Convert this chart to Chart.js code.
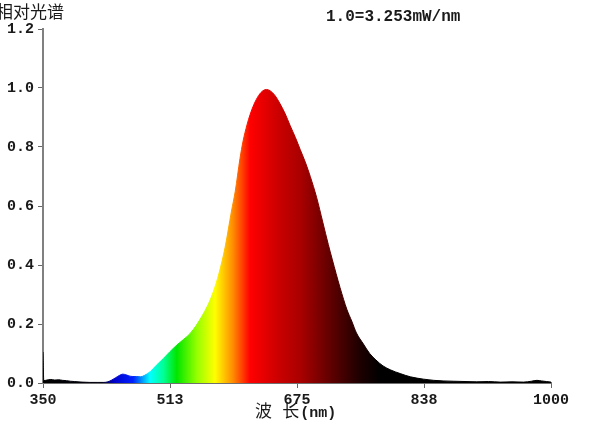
<!DOCTYPE html>
<html>
<head>
<meta charset="utf-8">
<script src="https://cdn.jsdelivr.net/npm/chart.js@4"></script>
<style>
  html, body { margin: 0; padding: 0; background: #fff; }
  #wrap { width: 600px; height: 434px; position: relative; }
</style>
</head>
<body>
<div id="wrap"><canvas id="myChart" width="600" height="434"></canvas></div>
<script>
'use strict';

// wavelength (nm) and relative intensity
const wavelengths = [
  350, 351, 355, 360, 365, 370, 375, 380, 385, 390, 395, 400, 410, 420,
  428, 433, 438, 443, 448, 452, 456, 460, 465, 470, 475, 480, 487, 495,
  504, 512, 521, 530, 538, 546, 555, 562, 568, 575, 583, 591, 596, 602,
  606, 611, 615, 620, 626, 631, 636, 641, 647, 653, 660, 666, 673, 679,
  686, 692, 700, 708, 715, 720, 730, 739, 745, 751, 760, 768, 776, 785,
  795, 807, 820, 837, 850, 862, 875, 890, 905, 920, 935, 950, 965, 975,
  982, 988, 994, 1000
];
const intensity = [
  0.105, 0.008, 0.010, 0.012, 0.010, 0.011, 0.009, 0.008, 0.006, 0.005, 0.004, 0.003, 0.002, 0.002,
  0.002, 0.004, 0.010, 0.018, 0.026, 0.030, 0.028, 0.024, 0.022, 0.022, 0.021, 0.026, 0.038, 0.060,
  0.083, 0.105, 0.128, 0.148, 0.167, 0.195, 0.234, 0.270, 0.310, 0.370, 0.460, 0.580, 0.650, 0.760,
  0.820, 0.875, 0.910, 0.945, 0.975, 0.990, 0.995, 0.990, 0.974, 0.948, 0.912, 0.874, 0.832, 0.792,
  0.746, 0.700, 0.630, 0.545, 0.470, 0.420, 0.324, 0.248, 0.210, 0.170, 0.132, 0.100, 0.078, 0.058,
  0.044, 0.032, 0.021, 0.013, 0.009, 0.007, 0.006, 0.005, 0.004, 0.005, 0.003, 0.004, 0.003, 0.006,
  0.009, 0.007, 0.005, 0.003
];
const xTickLabels = ['350', '513', '675', '838', '1000'];
const yTickLabels = ['0.0', '0.2', '0.4', '0.6', '0.8', '1.0', '1.2'];
const yAxisTitle = '相对光谱';
const xAxisTitle = '波 长';
const xAxisUnit = '(nm)';
const scaleNote = '1.0=3.253mW/nm';

// colour of the fill at each wavelength
const stopNm = [350, 425, 440, 465, 487, 504, 521, 547, 570, 593, 615, 653, 679, 721, 755, 782, 1000];
const stopColor = [
  '#000000', '#000010', '#0000c8', '#0020ff', '#00ffff', '#00ff96', '#00e600', '#96ff00',
  '#ffff00', '#ff8c00', '#ff0000', '#c80000', '#aa0000', '#5a0000', '#1e0000', '#000000', '#000000'
];

const monoFont = '"Liberation Mono", "Courier New", monospace';
const cjkFont = '"Noto Sans CJK SC", sans-serif';

const points = [];
for (let i = 0; i < wavelengths.length; i++) {
  points.push({ x: wavelengths[i], y: intensity[i] });
}

function spectrumFill(context) {
  const chart = context.chart;
  if (!chart.chartArea) {
    return '#ff0000';
  }
  const xScale = chart.scales.x;
  const x0 = xScale.getPixelForValue(350);
  const x1 = xScale.getPixelForValue(1000);
  const grad = chart.ctx.createLinearGradient(x0, 0, x1, 0);
  for (let i = 0; i < stopNm.length; i++) {
    grad.addColorStop((stopNm[i] - 350) / 650, stopColor[i]);
  }
  return grad;
}

const textPlugin = {
  id: 'cornerText',
  afterDraw(chart) {
    const ctx = chart.ctx;
    ctx.save();
    ctx.fillStyle = '#1a1a1a';
    ctx.textBaseline = 'middle';
    ctx.textAlign = 'left';
    ctx.font = '17px ' + cjkFont;
    ctx.fillText(yAxisTitle, -4, 12);
    ctx.font = 'bold 16px ' + monoFont;
    ctx.fillText(scaleNote, 326, 17);

    // x axis title: chinese part (mono space between) then the unit in mono
    ctx.font = '17px "Liberation Mono", ' + cjkFont;
    ctx.fillText(xAxisTitle, 255, 412);
    const w = ctx.measureText(xAxisTitle).width;
    ctx.font = 'bold 15px ' + monoFont;
    ctx.fillText(xAxisUnit, 255 + w + 1, 413);
    ctx.restore();
  }
};

const ctx = document.getElementById('myChart');

const myChart = new Chart(ctx, {
  type: 'line',
  data: {
    datasets: [
      {
        data: points,
        fill: 'origin',
        backgroundColor: spectrumFill,
        borderColor: spectrumFill,
        borderWidth: 1,
        pointRadius: 0,
        cubicInterpolationMode: 'monotone',
      },
    ],
  },
  options: {
    responsive: false,
    animation: false,
    devicePixelRatio: 1,
    layout: {
      padding: { top: 29, right: 49, left: 0, bottom: 0 },
    },
    plugins: {
      legend: { display: false },
      tooltip: { enabled: false },
    },
    scales: {
      x: {
        type: 'linear',
        min: 350,
        max: 1000,
        afterBuildTicks: function (scale) {
          scale.ticks = [350, 512.5, 675, 837.5, 1000].map(function (v) { return { value: v }; });
        },
        afterFit: function (scale) {
          scale.height = 51;
        },
        grid: {
          drawOnChartArea: false,
          drawTicks: true,
          tickLength: 5,
          color: '#666',
        },
        border: { display: true, color: '#707070', width: 2 },
        ticks: {
          padding: 3,
          color: '#1a1a1a',
          maxRotation: 0,
          font: { family: monoFont, size: 15, weight: 'bold' },
          callback: function (value, index) {
            return xTickLabels[index];
          },
        },
      },
      y: {
        min: 0,
        max: 1.2,
        afterBuildTicks: function (scale) {
          scale.ticks = [0, 0.2, 0.4, 0.6, 0.8, 1.0, 1.2].map(function (v) { return { value: v }; });
        },
        afterFit: function (scale) {
          scale.width = 43;
        },
        grid: {
          drawOnChartArea: false,
          drawTicks: true,
          tickLength: 5,
          color: '#666',
        },
        border: { display: true, color: '#808080', width: 2 },
        ticks: {
          padding: 4,
          color: '#1a1a1a',
          font: { family: monoFont, size: 15, weight: 'bold' },
          callback: function (value, index) {
            return yTickLabels[index];
          },
        },
      },
    },
  },
  plugins: [textPlugin],
});
</script>
</body>
</html>
